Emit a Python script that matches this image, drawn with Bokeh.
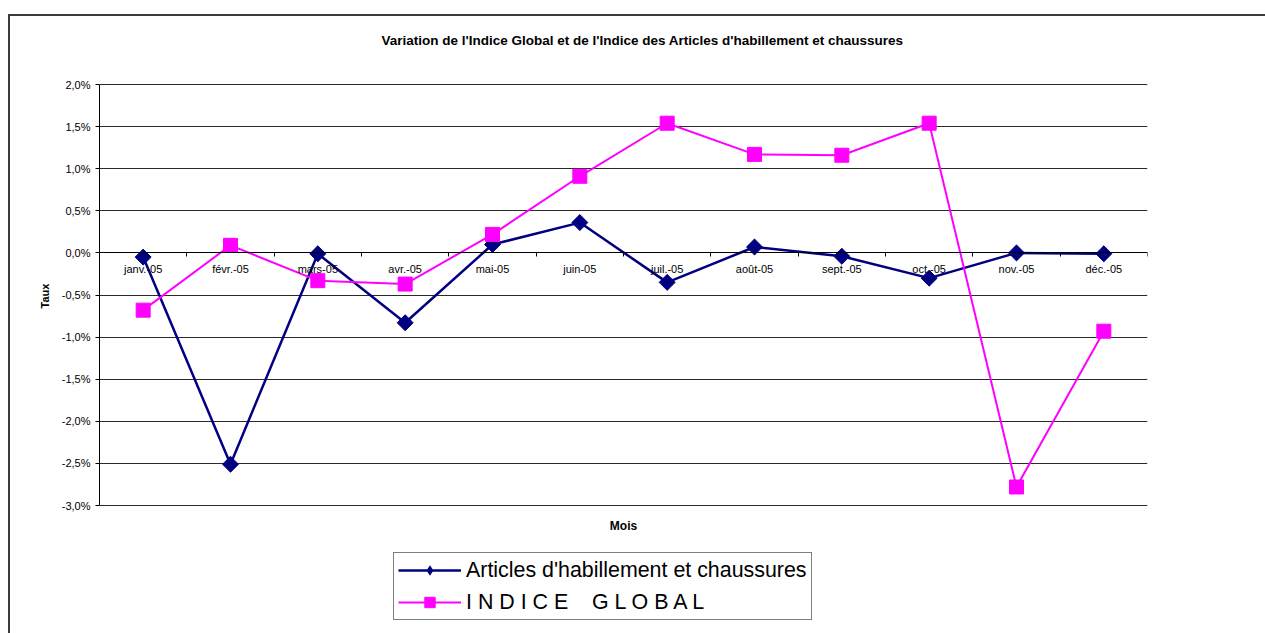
import math
from bokeh.plotting import figure
from bokeh.models import (Range1d, FixedTicker, CustomJSTickFormatter, Legend, LegendItem,
                          Label, Title, InlineStyleSheet)
from bokeh.embed import file_html
from bokeh.resources import INLINE

months = ["janv.-05", "févr.-05", "mars-05", "avr.-05", "mai-05", "juin-05",
          "juil.-05", "août-05", "sept.-05", "oct.-05", "nov.-05", "déc.-05"]
articles = [-0.05, -2.51, -0.01, -0.83, 0.10, 0.36, -0.35, 0.07, -0.04, -0.30, 0.00, -0.01]
indice = [-0.68, 0.09, -0.33, -0.37, 0.22, 0.91, 1.54, 1.17, 1.16, 1.54, -2.78, -0.93]
y_ticks = [-3.0, -2.5, -2.0, -1.5, -1.0, -0.5, 0.0, 0.5, 1.0, 1.5, 2.0]

title_text = "Variation de l'Indice Global et de l'Indice des Articles d'habillement et chaussures"
x_title = "Mois"
y_title = "Taux"

FONT = "Liberation Sans"
x_pos = [i + 0.5 for i in range(len(months))]
boundaries = list(range(len(months) + 1))

# layout: canvas 1265x633, plot area x 99..1147, y(2%)=84, y(-3%)=505
W, H = 1265, 633
PX_PER_PCT = (505 - 84) / 5.0
y_top = 2.0 + 84 / PX_PER_PCT
y_bot = -3.0 - (H - 505) / PX_PER_PCT

p = figure(width=W, height=H, output_backend="svg", toolbar_location=None,
           x_range=Range1d(0, len(months)), y_range=Range1d(y_bot, y_top),
           min_border_left=99, min_border_right=W - 1147, min_border_top=0, min_border_bottom=0)

p.title.visible = False
p.outline_line_color = None
p.background_fill_color = "white"
p.border_fill_color = "white"

# x axis crossing at zero
xa = p.xaxis[0]
xa.fixed_location = 0
xa.ticker = FixedTicker(ticks=x_pos, minor_ticks=boundaries)
xa.formatter = CustomJSTickFormatter(args=dict(months=months),
                                     code="return months[Math.floor(tick)];")
xa.major_tick_in = 0
xa.major_tick_out = 0
xa.minor_tick_in = 0
xa.minor_tick_out = 4
xa.minor_tick_line_color = "black"
xa.axis_line_color = "black"
xa.major_label_text_font = FONT
xa.major_label_text_font_size = "11px"
xa.major_label_text_color = "black"
xa.major_label_standoff = 6

ya = p.yaxis[0]
ya.bounds = (y_ticks[0], y_ticks[-1])
ya.ticker = FixedTicker(ticks=y_ticks, minor_ticks=[])
ya.formatter = CustomJSTickFormatter(code="return tick.toFixed(1).replace('.', ',') + '%';")
ya.major_tick_in = 0
ya.major_tick_out = 4
ya.axis_line_color = "black"
ya.major_tick_line_color = "black"
ya.major_label_text_font = FONT
ya.major_label_text_font_size = "11px"
ya.major_label_text_color = "black"

# y-axis title, placed along the left side
p.add_layout(Title(text=y_title, align="left", offset=325, standoff=16, text_font=FONT,
                   text_font_size="11px", text_font_style="bold", text_color="black"), "left")

p.xgrid.visible = False
p.ygrid.ticker = FixedTicker(ticks=y_ticks, minor_ticks=[])
p.ygrid.grid_line_color = "#2a2a2a"
p.ygrid.grid_line_width = 1

l1 = p.line(x_pos, articles, line_color="#000080", line_width=2.5)
# diamond used as the legend swatch (hidden beneath the wider markers below)
s1_key = p.scatter(x_pos, articles, marker="diamond", size=16, line_color=None,
                   fill_color="#000080")
s1 = p.scatter(x_pos, articles, marker="square", angle=math.pi / 4, size=11.3,
               fill_color="#000080", line_color="#000080")
l2 = p.line(x_pos, indice, line_color="#FF00FF", line_width=2)
s2 = p.scatter(x_pos, indice, marker="square", size=14,
               fill_color="#FF00FF", line_color="#FF00FF")

# chart title and x-axis title as text in the plot area
p.add_layout(Label(x=6.218, y=2.523, text=title_text, text_align="center",
                   text_baseline="middle", text_font=FONT, text_font_size="13.5px",
                   text_font_style="bold", text_color="black"))
p.add_layout(Label(x=6.0, y=-3.249, text=x_title, text_align="center",
                   text_baseline="middle", text_font=FONT, text_font_size="12px",
                   text_font_style="bold", text_color="black"))

legend = Legend(items=[
    LegendItem(label="Articles d'habillement et chaussures", renderers=[l1, s1_key]),
    LegendItem(label="I N D I C E    G L O B A L", renderers=[l2, s2]),
], location=(294, 13), orientation="vertical")
legend.label_text_font = FONT
legend.label_text_font_size = "21.4px"
legend.label_text_color = "black"
legend.glyph_width = 63
legend.glyph_height = 26
legend.label_height = 26
legend.label_standoff = 5
legend.spacing = 6
legend.padding = 4
legend.margin = 0
legend.border_line_color = "black"
legend.border_line_width = 1
legend.background_fill_alpha = 1
p.add_layout(legend, "center")

# outer chart-area border
p.stylesheets = [InlineStyleSheet(css="""
:host { overflow: hidden; }
:host::after {
  content: '';
  position: absolute;
  left: 8px; top: 14px; right: -20px; bottom: -20px;
  border: 2px solid #3a3a3a;
  pointer-events: none;
  z-index: 10;
}
""")]

open("out.html", "w").write(file_html(p, INLINE))
